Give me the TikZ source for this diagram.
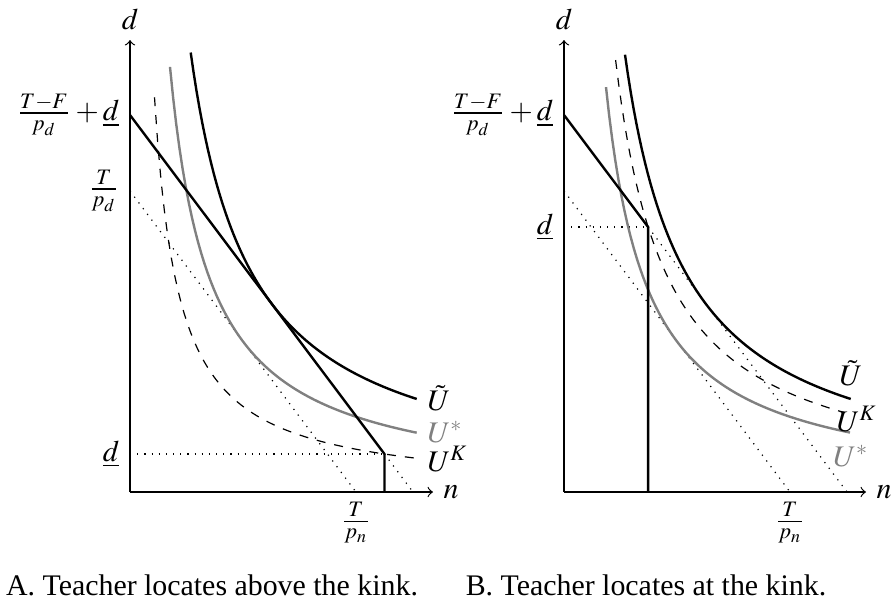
\documentclass[tikz,border=0pt]{standalone}
\usepackage{mathptmx}
\usepackage{fontspec}
\setmainfont{Liberation Serif}

\tikzset{
  axis/.style={->},
  budget/.style={thick},
  guide/.style={dotted},
  utilde/.style={thick},
  ustar/.style={thick, gray},
  ukink/.style={dashed},
  ulabel/.style={inner sep=1pt}
}

\begin{document}
\begin{tikzpicture}[x=0.11765cm, y=0.11765cm]
    \useasboundingbox (-13,-11.3) rectangle (76.4,49.2);

    % A: oben der Knick
    \coordinate (OA) at (0,0);
    \coordinate (DA) at (0,45.2);
    \coordinate (NA) at (30.3,0);
    \coordinate (IA) at (0,37.7);
    \coordinate (TdA) at (0,30.1);
    \coordinate (TnA) at (22.6,0);
    \coordinate (LA) at (0,3.8);
    \coordinate (KA) at (25.45,3.8);
    \coordinate (FA) at (25.45,0);
    \coordinate (EA) at (28.3,0);

    \draw[axis] (OA) -- (DA);
    \draw[axis] (OA) -- (NA);
    \draw[guide] (LA) -- (KA);
    \draw[guide] (TdA) -- (TnA);
    \draw[guide] (KA) -- (EA);

    \draw[ukink, domain=2.45:28.67, samples=80] plot (\x, {96.71/\x});
    \draw[ustar, domain=4.0:28.67, samples=80] plot (\x, {170.05/\x});
    \draw[utilde, domain=6.07:28.67, samples=80] plot (\x, {266.76/\x});
    \draw[budget] (IA) -- (KA) -- (FA);

    \node[above] (dA) at (DA) {$d$};
    \node[right] (nA) at (NA) {$n$};
    \node[left] (iA) at (IA) {$\frac{T-F}{p_d}+\underline{d}$};
    \node[left] (tdA) at (TdA) {$\frac{T}{p_d}$};
    \node[left] (lA) at (LA) {$\underline{d}$};
    \node[below] (tnA) at (TnA) {$\frac{T}{p_n}$};
    \node[ulabel, anchor=west] (utA) at (29.4,9.4) {$\tilde{U}$};
    \node[ulabel, anchor=west, gray] (usA) at (29.4,5.95) {$U^*$};
    \node[ulabel, anchor=west] (ukA) at (29.4,3.3) {$U^K$};
    \node (capA) at (8.2,-9.3) {A. Teacher locates above the kink.};

    % B: am Knick
    \begin{scope}[xshift=43.4*0.11765cm]
    \coordinate (OB) at (0,0);
    \coordinate (DB) at (0,45.2);
    \coordinate (NB) at (30.2,0);
    \coordinate (IB) at (0,37.7);
    \coordinate (TdB) at (0,30.1);
    \coordinate (TnB) at (22.6,0);
    \coordinate (LB) at (0,26.5);
    \coordinate (KB) at (8.41,26.5);
    \coordinate (FB) at (8.41,0);
    \coordinate (EB) at (28.3,0);

    \draw[axis] (OB) -- (DB);
    \draw[axis] (OB) -- (NB);
    \draw[guide] (LB) -- (KB);
    \draw[guide] (TdB) -- (TnB);
    \draw[guide] (KB) -- (EB);

    \draw[ukink, domain=5.16:28.0, samples=80] plot (\x, {222.9/\x});
    \draw[ustar, domain=4.2:28.6, samples=80] plot (\x, {170.05/\x});
    \draw[utilde, domain=6.1:28.67, samples=80] plot (\x, {266.76/\x});
    \draw[budget] (IB) -- (KB) -- (FB);

    \node[above] (dB) at (DB) {$d$};
    \node[right] (nB) at (NB) {$n$};
    \node[left] (iB) at (IB) {$\frac{T-F}{p_d}+\underline{d}$};
    \node[left] (lB) at (LB) {$\underline{d}$};
    \node[below] (tnB) at (TnB) {$\frac{T}{p_n}$};
    \node[ulabel] (utB) at (28.7,11.9) {$\tilde{U}$};
    \node[ulabel] (ukB) at (29.3,7.3) {$U^K$};
    \node[ulabel, gray] (usB) at (28.7,3.6) {$U^*$};
    \node (capB) at (8.2,-9.3) {B. Teacher locates at the kink.};
    \end{scope}
  \end{tikzpicture}
\end{document}
